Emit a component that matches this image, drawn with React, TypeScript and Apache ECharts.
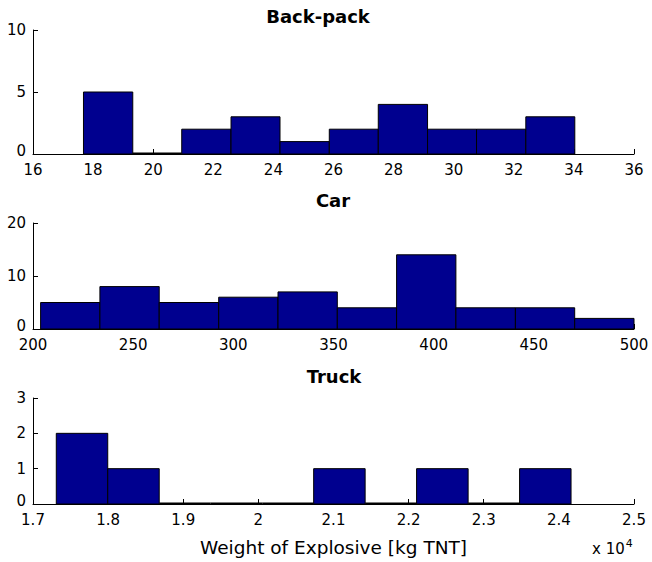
import React, { useEffect, useRef } from "react";
import * as echarts from "echarts";

// Histogram bin edges and counts
const BACKPACK_EDGES = [17.68, 19.32, 20.95, 22.59, 24.22, 25.86, 27.49, 29.13, 30.76, 32.4, 34.03];
const BACKPACK_COUNTS = [5, 0, 2, 3, 1, 2, 4, 2, 2, 3];

const CAR_EDGES = [203.8, 233.4, 263.0, 292.7, 322.3, 351.9, 381.5, 411.1, 440.8, 470.4, 500.0];
const CAR_COUNTS = [5, 8, 5, 6, 7, 4, 14, 4, 4, 2];

// Truck values in units of 10^4 kg TNT
const TRUCK_EDGES = [1.731, 1.7995, 1.868, 1.9366, 2.0051, 2.0736, 2.1421, 2.2106, 2.2792, 2.3477, 2.4162];
const TRUCK_COUNTS = [2, 1, 0, 0, 0, 1, 0, 1, 0, 1];

const TITLES = ["Back-pack", "Car", "Truck"];
const X_LABEL = "Weight of Explosive [kg TNT]";

const FONT = "DejaVu Sans, Liberation Sans, Arial, sans-serif";

function toBins(edges: number[], counts: number[]) {
  return counts.map((c, i) => [edges[i], edges[i + 1], c]);
}

export default function App() {
  const ref = useRef<HTMLDivElement>(null);
  useEffect(() => {
    if (!ref.current) return;
    const chart = echarts.init(ref.current, null, { renderer: "svg" });

    const grids = [
      { left: 33, right: 18, top: 30, height: 124 },
      { left: 33, right: 18, top: 223, height: 106 },
      { left: 33, right: 18, top: 398, height: 106 },
    ];

    const axisCommon = {
      axisLine: { show: true, onZero: false, lineStyle: { color: "#000", width: 1 } },
      axisTick: { show: true, inside: true, length: 5, lineStyle: { color: "#000", width: 1 } },
      splitLine: { show: false },
      axisLabel: { color: "#000", fontFamily: FONT, fontSize: 15 },
    };

    const xRanges = [
      { min: 16, max: 36, interval: 2 },
      { min: 200, max: 500, interval: 50 },
      { min: 1.7, max: 2.5, interval: 0.1 },
    ];
    const yRanges = [
      { min: 0, max: 10, interval: 5 },
      { min: 0, max: 20, interval: 10 },
      { min: 0, max: 3, interval: 1 },
    ];

    const xAxis = xRanges.map((r, i) => ({
      type: "value",
      gridIndex: i,
      ...r,
      ...axisCommon,
      axisLabel: { ...axisCommon.axisLabel, margin: 8, lineHeight: 15 },
      ...(i === 2
        ? {
            name: X_LABEL,
            nameLocation: "middle",
            nameGap: 34,
            nameTextStyle: { color: "#000", fontFamily: FONT, fontSize: 18.5 },
          }
        : {}),
    }));

    const yAxis = yRanges.map((r, i) => ({
      type: "value",
      gridIndex: i,
      ...r,
      ...axisCommon,
      axisLabel: {
        ...axisCommon.axisLabel,
        margin: 7,
        lineHeight: 12,
        formatter: (v: number) => (v === 0 ? "{z|0}" : String(v)),
        rich: { z: { fontFamily: FONT, fontSize: 15, color: "#000", lineHeight: 12, padding: [0, 0, 7, 0] } },
      },
    }));

    const datasets = [
      toBins(BACKPACK_EDGES, BACKPACK_COUNTS),
      toBins(CAR_EDGES, CAR_COUNTS),
      toBins(TRUCK_EDGES, TRUCK_COUNTS),
    ];

    const series = datasets.map((data, i) => ({
      type: "custom",
      name: TITLES[i],
      xAxisIndex: i,
      yAxisIndex: i,
      encode: { x: [0, 1], y: 2 },
      data,
      renderItem: (params: any, api: any) => {
        const p0 = api.coord([api.value(0), api.value(2)]);
        const p1 = api.coord([api.value(1), 0]);
        if (api.value(2) === 0) {
          return {
            type: "line",
            shape: { x1: p0[0], y1: p1[1] - 0.5, x2: p1[0], y2: p1[1] - 0.5 },
            style: { stroke: "#000", lineWidth: 2 },
          };
        }
        return {
          type: "rect",
          shape: { x: p0[0], y: p0[1], width: p1[0] - p0[0], height: p1[1] - p0[1] },
          style: { fill: "#00008F", stroke: "#000", lineWidth: 1 },
        };
      },
    }));

    const titleCenters = [
      { x: 318, y: 18 },
      { x: 333, y: 202 },
      { x: 334, y: 378 },
    ];

    chart.setOption({
      animation: false,
      backgroundColor: "#fff",
      title: TITLES.map((t, i) => ({
        text: t,
        left: titleCenters[i].x,
        top: titleCenters[i].y - 11,
        textAlign: "center",
        textStyle: { color: "#000", fontFamily: FONT, fontSize: 18, fontWeight: "bold" },
        padding: 0,
      })),
      grid: grids,
      xAxis,
      yAxis,
      series,
      graphic: [
        {
          type: "text",
          left: 592,
          top: 538,
          style: {
            text: "x 10{sup|4}",
            fill: "#000",
            font: `15px ${FONT}`,
            rich: {
              sup: { fontSize: 11, fontFamily: FONT, verticalAlign: "top", padding: [0, 0, 10, 1] },
            },
          },
        },
      ],
    });

    return () => chart.dispose();
  }, []);

  return (
    <div
      ref={ref}
      style={{ position: "fixed", left: 0, top: 0, width: 652, height: 562, background: "#fff" }}
    />
  );
}
